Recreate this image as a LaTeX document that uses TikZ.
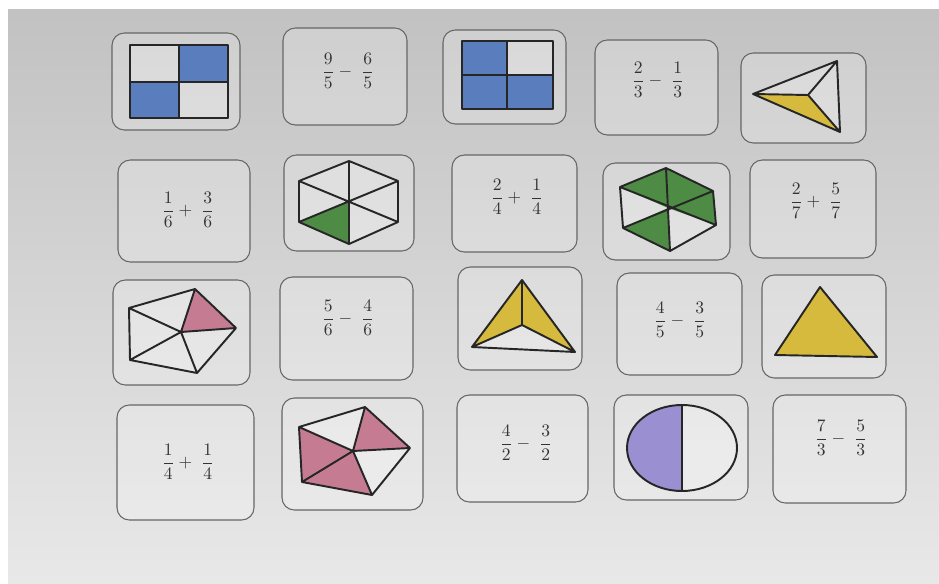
\documentclass[tikz,border=0pt]{standalone}
\usepackage{amsmath}
\definecolor{tileblue}{HTML}{5A7DBD}
\definecolor{tilegreen}{HTML}{4E8C45}
\definecolor{tileyellow}{HTML}{D6BA3E}
\definecolor{tilepink}{HTML}{C57C93}
\definecolor{tilelilac}{HTML}{9A8FD0}
\tikzset{
  card/.style={draw=black!60, line width=0.6pt, rounded corners=7pt,
               fill=white, fill opacity=0.22, draw opacity=1, inner sep=0pt},
  frac/.style={text=black!80, inner sep=0pt},
  piece/.style={draw=black!85, line width=1.1pt, line join=round},
  blank/.style={fill=white, fill opacity=0.2},
}
% card: name, centre x, centre y, width, height (all in px)
\newcommand{\Card}[5]{%
  \node[card, minimum width=#4*0.02cm, minimum height=#5*0.02cm] (#1) at (#2,#3) {};}
% two fractions with an operator
\newcommand{\Sum}[5]{$\dfrac{#1}{#2}#3\;\dfrac{#4}{#5}$}

\begin{document}
\begin{tikzpicture}[x=0.02cm, y=-0.02cm]
  \useasboundingbox (0,0) rectangle (939,584);
  \fill[white] (0,0) rectangle (939,584);
  \fill[top color=black!24, bottom color=black!9] (8,10) rectangle (939,584);

  % row 1
  \Card{c11}{176}{81.5}{128}{97}
  \Card{c12}{345}{76.5}{124}{97}
  \Card{c13}{504.5}{77}{123}{94}
  \Card{c14}{656.5}{87.5}{123}{95}
  \Card{c15}{803.5}{98}{125}{90}
  % row 2
  \Card{c21}{184}{211}{132}{102}
  \Card{c22}{349}{203}{130}{96}
  \Card{c23}{514.5}{203.5}{125}{97}
  \Card{c24}{666.5}{211.5}{127}{97}
  \Card{c25}{813}{209}{126}{98}
  % row 3
  \Card{c31}{181.5}{332.5}{137}{105}
  \Card{c32}{346.5}{328.5}{133}{103}
  \Card{c33}{520}{318.5}{124}{103}
  \Card{c34}{679.5}{324}{125}{102}
  \Card{c35}{824}{326.5}{124}{103}
  % row 4
  \Card{c41}{185.5}{462.5}{137}{115}
  \Card{c42}{352.5}{454}{141}{112}
  \Card{c43}{522.5}{448.5}{131}{107}
  \Card{c44}{681}{447.5}{134}{105}
  \Card{c45}{839.5}{449}{133}{108}

  % sums
  \node[frac] (f12) at (348,71)  {\Sum{9}{5}{-}{6}{5}};
  \node[frac] (f14) at (658,80)  {\Sum{2}{3}{-}{1}{3}};
  \node[frac] (f21) at (188,210) {\Sum{1}{6}{+}{3}{6}};
  \node[frac] (f23) at (517,197) {\Sum{2}{4}{+}{1}{4}};
  \node[frac] (f25) at (816,201) {\Sum{2}{7}{+}{5}{7}};
  \node[frac] (f32) at (348,318) {\Sum{5}{6}{-}{4}{6}};
  \node[frac] (f34) at (680,320) {\Sum{4}{5}{-}{3}{5}};
  \node[frac] (f41) at (188,462) {\Sum{1}{4}{+}{1}{4}};
  \node[frac] (f43) at (526,443) {\Sum{4}{2}{-}{3}{2}};
  \node[frac] (f45) at (841,438) {\Sum{7}{3}{-}{5}{3}};

  % squares in quarters
  \fill[blank] (130,45) rectangle (228,118);
  \fill[tileblue] (179,45) rectangle (228,82) (130,82) rectangle (179,118);
  \draw[piece] (130,45) rectangle (228,118) (179,45) -- (179,118) (130,82) -- (228,82);
  \fill[blank] (462,41) rectangle (553,109);
  \fill[tileblue] (462,41) rectangle (507,109) (507,75) rectangle (553,109);
  \draw[piece] (462,41) rectangle (553,109) (507,41) -- (507,109) (462,75) -- (553,75);

  % triangles in thirds
  \fill[blank] (753,94) -- (837,61) -- (840,132) -- cycle;
  \fill[tileyellow] (753,94) -- (808,95) -- (840,132) -- cycle;
  \draw[piece] (753,94) -- (837,61) -- (840,132) -- cycle
               (753,94) -- (808,95) (837,61) -- (808,95) (840,132) -- (808,95);
  \fill[blank] (522,280) -- (575,352) -- (472,347) -- cycle;
  \fill[tileyellow] (522,280) -- (575,352) -- (522,325) -- (472,347) -- cycle;
  \draw[piece] (522,280) -- (575,352) -- (472,347) -- cycle
               (522,280) -- (522,325) (472,347) -- (522,325) (575,352) -- (522,325);
  \fill[tileyellow, piece] (820,287) -- (877,357) -- (775,355) -- cycle;

  % hexagons in sixths
  \fill[blank] (349,161) -- (398,181) -- (398,222) -- (349,244) -- (299,222) -- (299,181) -- cycle;
  \fill[tilegreen] (349,202) -- (299,222) -- (349,244) -- cycle;
  \draw[piece] (349,161) -- (398,181) -- (398,222) -- (349,244) -- (299,222) -- (299,181) -- cycle
               (349,161) -- (349,244) (299,181) -- (398,222) (299,222) -- (398,181);
  \fill[blank] (666,168) -- (713,191) -- (716,225) -- (670,251) -- (623,228) -- (620,187) -- cycle;
  \fill[tilegreen] (668,208) -- (620,187) -- (666,168) -- (713,191) -- (716,225) -- cycle
                   (668,208) -- (623,228) -- (670,251) -- cycle;
  \draw[piece] (666,168) -- (713,191) -- (716,225) -- (670,251) -- (623,228) -- (620,187) -- cycle
               (666,168) -- (670,251) (620,187) -- (716,225) (623,228) -- (713,191);

  % pentagons in fifths
  \fill[blank] (129,308) -- (195,289) -- (236,328) -- (197,373) -- (130,360) -- cycle;
  \fill[tilepink] (181,332) -- (195,289) -- (236,328) -- cycle;
  \draw[piece] (129,308) -- (195,289) -- (236,328) -- (197,373) -- (130,360) -- cycle
               (181,332) -- (129,308) (181,332) -- (195,289) (181,332) -- (236,328)
               (181,332) -- (197,373) (181,332) -- (130,360);
  \fill[blank] (299,427) -- (365,407) -- (410,448) -- (372,495) -- (302,482) -- cycle;
  \fill[tilepink] (353,451) -- (299,427) -- (302,482) -- (372,495) -- cycle
                  (353,451) -- (365,407) -- (410,448) -- cycle;
  \draw[piece] (299,427) -- (365,407) -- (410,448) -- (372,495) -- (302,482) -- cycle
               (353,451) -- (299,427) (353,451) -- (365,407) (353,451) -- (410,448)
               (353,451) -- (372,495) (353,451) -- (302,482);

  % circle in halves
  \fill[blank] (682,448) ellipse (55 and 43);
  \begin{scope}
    \clip (620,400) rectangle (682,496);
    \fill[tilelilac] (682,448) ellipse (55 and 43);
  \end{scope}
  \draw[piece] (682,448) ellipse (55 and 43) (682,405) -- (682,491);
\end{tikzpicture}
\end{document}
